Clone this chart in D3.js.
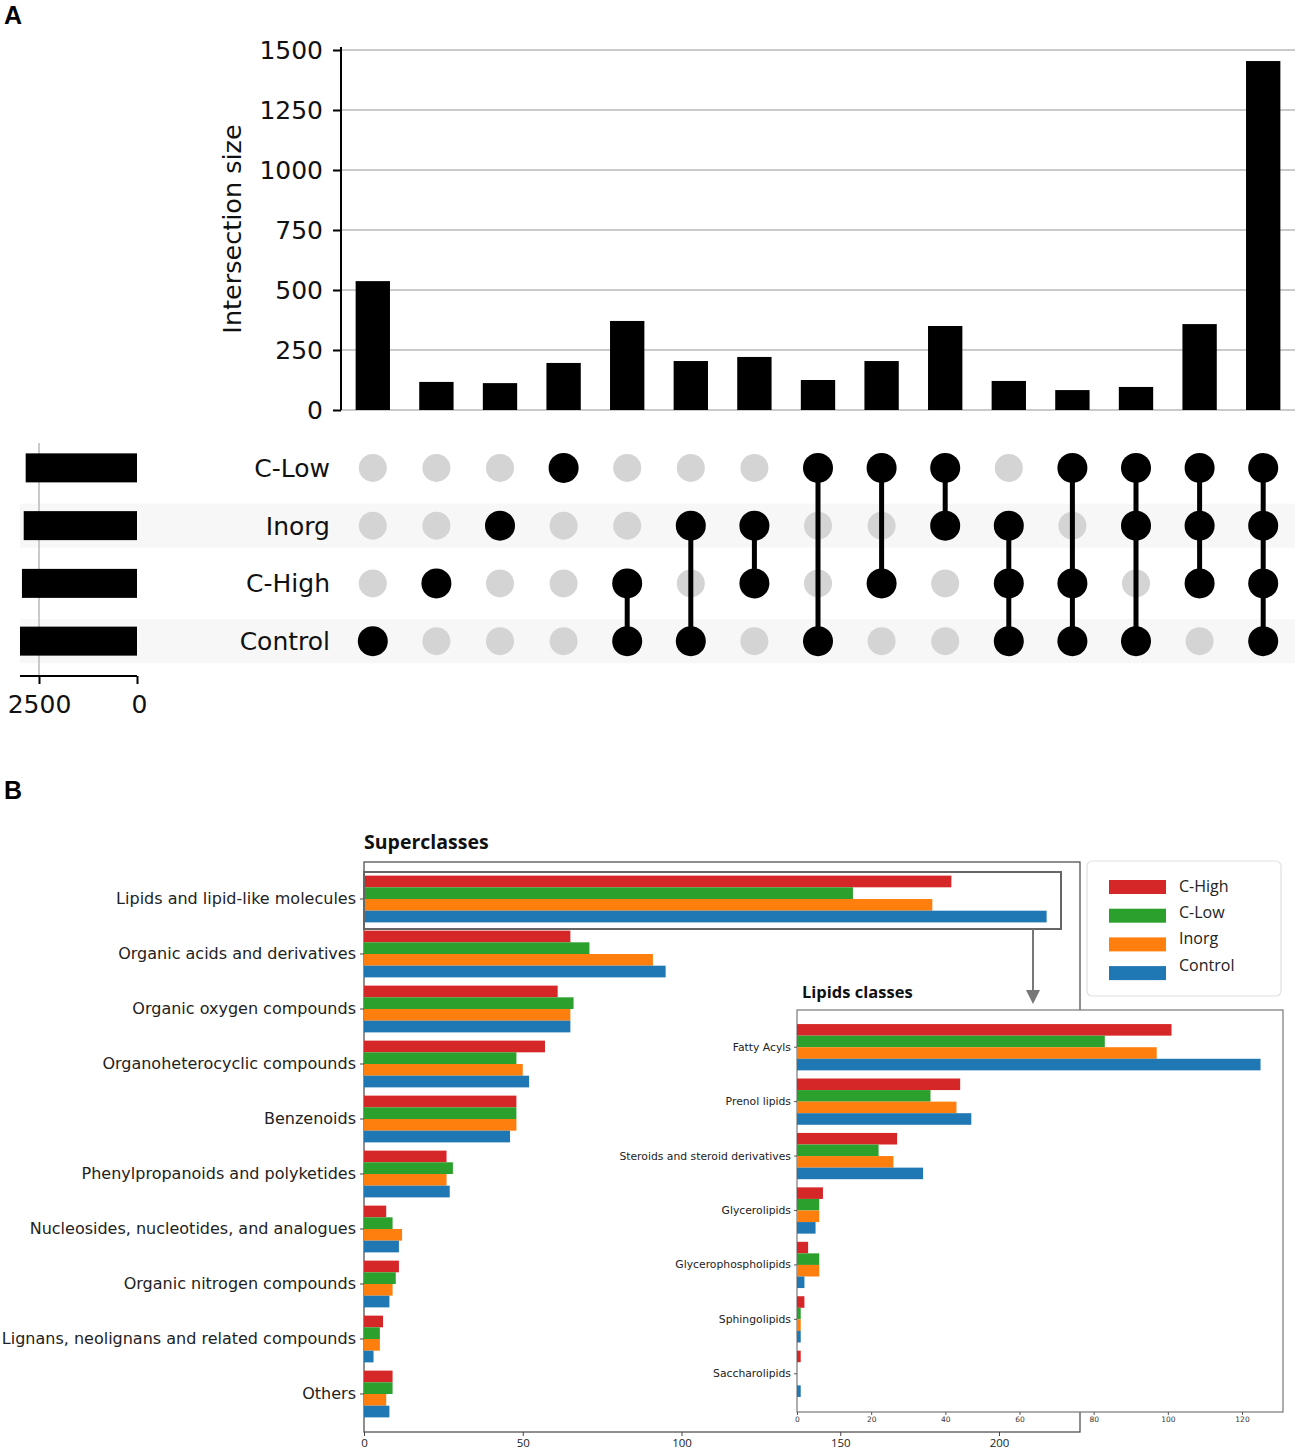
<!DOCTYPE html>
<html><head><meta charset="utf-8">
<script src="https://cdn.jsdelivr.net/npm/d3@7"></script>
<style>body{margin:0;background:#fff}</style>
</head><body>
<svg id="c" width="1299" height="1450"></svg>
<script>
// ---------- DATA: panel A (UpSet) ----------
const sets = ["C-Low", "Inorg", "C-High", "Control"];
const setSizes = [2840, 2890, 2935, 2985];
const intersectionSizes = [537, 117, 112, 196, 371, 204, 221, 125, 204, 350, 121, 83, 96, 358, 1454];
const intersectionMembers = [
  ["Control"], ["C-High"], ["Inorg"], ["C-Low"],
  ["C-High","Control"], ["Inorg","Control"], ["Inorg","C-High"], ["C-Low","Control"],
  ["C-Low","C-High"], ["C-Low","Inorg"], ["Inorg","C-High","Control"], ["C-Low","C-High","Control"],
  ["C-Low","Inorg","Control"], ["C-Low","Inorg","C-High"], ["C-Low","Inorg","C-High","Control"]
];
const intersectionTicks = [0, 250, 500, 750, 1000, 1250, 1500];
const setSizeTicks = [0, 2500];

// ---------- DATA: panel B ----------
const groups = ["C-High", "C-Low", "Inorg", "Control"];
const groupColors = ["#d62728", "#2ca02c", "#ff7f0e", "#1f77b4"];
const superclasses = ["Lipids and lipid-like molecules", "Organic acids and derivatives", "Organic oxygen compounds",
  "Organoheterocyclic compounds", "Benzenoids", "Phenylpropanoids and polyketides",
  "Nucleosides, nucleotides, and analogues", "Organic nitrogen compounds",
  "Lignans, neolignans and related compounds", "Others"];
const superCHigh   = [185, 65, 61, 57, 48, 26, 7, 11, 6, 9];
const superCLow    = [154, 71, 66, 48, 48, 28, 9, 10, 5, 9];
const superInorg   = [179, 91, 65, 50, 48, 26, 12, 9, 5, 7];
const superControl = [215, 95, 65, 52, 46, 27, 11, 8, 3, 8];
const superTicks = [0, 50, 100, 150, 200];

const lipidClasses = ["Fatty Acyls", "Prenol lipids", "Steroids and steroid derivatives", "Glycerolipids",
  "Glycerophospholipids", "Sphingolipids", "Saccharolipids"];
const lipidCHigh   = [101, 44, 27, 7, 3, 2, 1];
const lipidCLow    = [83, 36, 22, 6, 6, 1, 0];
const lipidInorg   = [97, 43, 26, 6, 6, 1, 0];
const lipidControl = [125, 47, 34, 5, 2, 1, 1];
const lipidTicks = [0, 20, 40, 60, 80, 100, 120];

const svg = d3.select("#c");
const DJ = "DejaVu Sans, sans-serif";
const OS = "'Open Sans', 'Noto Sans', sans-serif";
const fmt = d3.format("d");

// panel letters
svg.append("text").attr("x", 4).attr("y", 24).attr("font-family", "Liberation Sans, Arial").attr("font-weight", "bold").attr("font-size", 25).text("A");
svg.append("text").attr("x", 4).attr("y", 799).attr("font-family", "Liberation Sans, Arial").attr("font-weight", "bold").attr("font-size", 25).text("B");

// ================= PANEL A =================
const xCol = d3.scaleBand().domain(d3.range(intersectionSizes.length)).range([341, 1295]);
const yInt = d3.scaleLinear().domain([0, 1500]).range([410, 50]);
const yRow = d3.scaleBand().domain(sets).range([439, 670]);
const xSet = d3.scaleLinear().domain([0, 2500]).range([137, 39]);

// row shading
const shadeRows = ["Inorg", "Control"];
svg.append("g").selectAll("rect").data(shadeRows).join("rect")
  .attr("x", 20).attr("width", 1275)
  .attr("y", d => yRow(d) + yRow.bandwidth() / 2 - 22).attr("height", 44)
  .attr("fill", "#f7f7f7");

// gridlines
svg.append("g").selectAll("line").data(intersectionTicks).join("line")
  .attr("x1", 341).attr("x2", 1295).attr("y1", d => yInt(d)).attr("y2", d => yInt(d))
  .attr("stroke", "#b8b8b8").attr("stroke-width", 1.5);

// intersection bars
const bw = xCol.bandwidth() * 0.54;
svg.append("g").selectAll("rect").data(intersectionSizes).join("rect")
  .attr("x", (d, i) => xCol(i) + xCol.bandwidth() / 2 - bw / 2)
  .attr("width", bw)
  .attr("y", d => yInt(d)).attr("height", d => yInt(0) - yInt(d))
  .attr("fill", "#000");

// y axis
const yAx = svg.append("g").attr("transform", "translate(341,0)")
  .call(d3.axisLeft(yInt).tickValues(intersectionTicks).tickFormat(fmt).tickSize(8).tickPadding(10).tickSizeOuter(0));
yAx.select(".domain").attr("stroke-width", 2).attr("d", "M0,47V410");
yAx.selectAll(".tick line").attr("stroke-width", 2);
yAx.selectAll("text").attr("font-family", DJ).attr("font-size", 25).attr("fill", "#111");
svg.append("text").attr("transform", "translate(241,229) rotate(-90)").attr("text-anchor", "middle")
  .attr("font-family", DJ).attr("font-size", 25.5).attr("fill", "#111").text("Intersection size");

// matrix dots
const cx = i => xCol(i) + xCol.bandwidth() / 2;
const cy = s => yRow(s) + yRow.bandwidth() / 2;
const dots = [];
intersectionMembers.forEach((m, i) => sets.forEach(s => dots.push({ i, s, on: m.includes(s) })));
svg.append("g").selectAll("circle").data(dots.filter(d => !d.on)).join("circle")
  .attr("cx", d => cx(d.i)).attr("cy", d => cy(d.s)).attr("r", 14).attr("fill", "#d4d4d4");
svg.append("g").selectAll("line").data(intersectionMembers.map((m, i) => ({ m, i })).filter(d => d.m.length > 1)).join("line")
  .attr("x1", d => cx(d.i)).attr("x2", d => cx(d.i))
  .attr("y1", d => d3.min(d.m, s => cy(s))).attr("y2", d => d3.max(d.m, s => cy(s)))
  .attr("stroke", "#000").attr("stroke-width", 5);
svg.append("g").selectAll("circle").data(dots.filter(d => d.on)).join("circle")
  .attr("cx", d => cx(d.i)).attr("cy", d => cy(d.s)).attr("r", 15).attr("fill", "#000");

// row labels
svg.append("g").selectAll("text").data(sets).join("text")
  .attr("x", 330).attr("y", d => cy(d)).attr("dy", "0.36em").attr("text-anchor", "end")
  .attr("font-family", DJ).attr("font-size", 25).attr("fill", "#111").text(d => d);

// set size bars
svg.append("line").attr("x1", xSet(2500)).attr("x2", xSet(2500)).attr("y1", 443).attr("y2", 676)
  .attr("stroke", "#b8b8b8").attr("stroke-width", 1.5);
svg.append("g").selectAll("rect").data(setSizes).join("rect")
  .attr("x", d => xSet(d)).attr("width", d => xSet(0) - xSet(d))
  .attr("y", (d, i) => cy(sets[i]) - 14.5).attr("height", 29).attr("fill", "#000");
const xsAx = svg.append("g").attr("transform", "translate(0,676)")
  .call(d3.axisBottom(xSet).tickValues(setSizeTicks).tickFormat(fmt).tickSize(8).tickPadding(11).tickSizeOuter(0));
xsAx.select(".domain").attr("stroke-width", 2).attr("d", "M20,0H137");
xsAx.selectAll(".tick line").attr("stroke-width", 2);
xsAx.selectAll("text").attr("font-family", DJ).attr("font-size", 25).attr("fill", "#111");
xsAx.selectAll(".tick").filter(d => d === 0).select("text").attr("dx", 2);

// ================= PANEL B =================
const xB = d3.scaleLinear().domain([0, 200]).range([364, 999]);
const yB = d3.scaleBand().domain(superclasses).range([871.5, 1421.5]);
const superSeries = [superCHigh, superCLow, superInorg, superControl];
const gH = yB.bandwidth() * 0.85;
const subH = gH / 4;

// frame
svg.append("rect").attr("x", 364).attr("y", 862).attr("width", 716).attr("height", 570)
  .attr("fill", "none").attr("stroke", "#444").attr("stroke-width", 1.2);

const superBars = [];
superclasses.forEach((c, ci) => superSeries.forEach((arr, gi) => superBars.push({ c, gi, v: arr[ci] })));
svg.append("g").selectAll("rect").data(superBars).join("rect")
  .attr("x", xB(0)).attr("width", d => xB(d.v) - xB(0))
  .attr("y", d => yB(d.c) + yB.bandwidth() / 2 - gH / 2 + d.gi * subH).attr("height", subH)
  .attr("fill", d => groupColors[d.gi]);

const yBAx = svg.append("g").attr("transform", "translate(364,0)")
  .call(d3.axisLeft(yB).tickSize(4).tickPadding(4).tickSizeOuter(0));
yBAx.select(".domain").remove();
yBAx.selectAll("text").attr("font-family", DJ).attr("font-size", 16).attr("fill", "#222");
yBAx.selectAll(".tick line").attr("stroke", "#444");

const xBAx = svg.append("g").attr("transform", "translate(0,1432)")
  .call(d3.axisBottom(xB).tickValues(superTicks).tickSize(4).tickPadding(3).tickSizeOuter(0));
xBAx.select(".domain").remove();
xBAx.selectAll("text").attr("font-family", OS).attr("font-size", 11.5).attr("fill", "#222");
xBAx.selectAll(".tick line").attr("stroke", "#444");

svg.append("text").attr("x", 364).attr("y", 849).attr("font-family", OS).attr("font-weight", "bold")
  .attr("font-size", 19.5).attr("fill", "#111").text("Superclasses");

// highlight box & arrow
svg.append("rect").attr("x", 364).attr("y", 872).attr("width", 697).attr("height", 57)
  .attr("fill", "none").attr("stroke", "#666").attr("stroke-width", 2);
svg.append("line").attr("x1", 1033).attr("x2", 1033).attr("y1", 929).attr("y2", 992)
  .attr("stroke", "#777").attr("stroke-width", 2);
svg.append("path").attr("d", "M1026,990L1040,990L1033,1004Z").attr("fill", "#777");

// legend
svg.append("rect").attr("x", 1087).attr("y", 861).attr("width", 194).attr("height", 135).attr("rx", 5)
  .attr("fill", "#fff").attr("stroke", "#e0e0e0").attr("stroke-width", 1.2);
const lg = svg.append("g").selectAll("g").data(groups).join("g")
  .attr("transform", (d, i) => `translate(1109,${880 + i * 28.7})`);
lg.append("rect").attr("width", 57).attr("height", 14).attr("fill", (d, i) => groupColors[i]);
lg.append("text").attr("x", 70).attr("y", (d, i) => 6 - i * 2.4).attr("dy", "0.35em").attr("font-family", OS).attr("font-size", 16)
  .attr("fill", "#222").text(d => d);

// ================= INSET =================
const xL = d3.scaleLinear().domain([0, 120]).range([797, 1242]);
const yL = d3.scaleBand().domain(lipidClasses).range([1020, 1401]);
const lipidSeries = [lipidCHigh, lipidCLow, lipidInorg, lipidControl];
const lgH = yL.bandwidth() * 0.85, lsubH = lgH / 4;

svg.append("rect").attr("x", 797).attr("y", 1010).attr("width", 486).attr("height", 402)
  .attr("fill", "#fff").attr("stroke", "#777").attr("stroke-width", 1.2);
svg.append("text").attr("x", 802).attr("y", 998).attr("font-family", OS).attr("font-weight", "bold")
  .attr("font-size", 16.5).attr("fill", "#111").text("Lipids classes");

const lipidBars = [];
lipidClasses.forEach((c, ci) => lipidSeries.forEach((arr, gi) => lipidBars.push({ c, gi, v: arr[ci] })));
svg.append("g").selectAll("rect").data(lipidBars).join("rect")
  .attr("x", xL(0)).attr("width", d => xL(d.v) - xL(0))
  .attr("y", d => yL(d.c) + yL.bandwidth() / 2 - lgH / 2 + d.gi * lsubH).attr("height", lsubH)
  .attr("fill", d => groupColors[d.gi]);

const yLAx = svg.append("g").attr("transform", "translate(797,0)")
  .call(d3.axisLeft(yL).tickSize(3).tickPadding(3).tickSizeOuter(0));
yLAx.select(".domain").remove();
yLAx.selectAll("text").attr("font-family", DJ).attr("font-size", 10.8).attr("fill", "#222");
yLAx.selectAll(".tick line").attr("stroke", "#555");

const xLAx = svg.append("g").attr("transform", "translate(0,1412)")
  .call(d3.axisBottom(xL).tickValues(lipidTicks).tickSize(3).tickPadding(2).tickSizeOuter(0));
xLAx.select(".domain").remove();
xLAx.selectAll("text").attr("font-family", DJ).attr("font-size", 7.5).attr("fill", "#333");
xLAx.selectAll(".tick line").attr("stroke", "#555");
</script>
</body></html>
